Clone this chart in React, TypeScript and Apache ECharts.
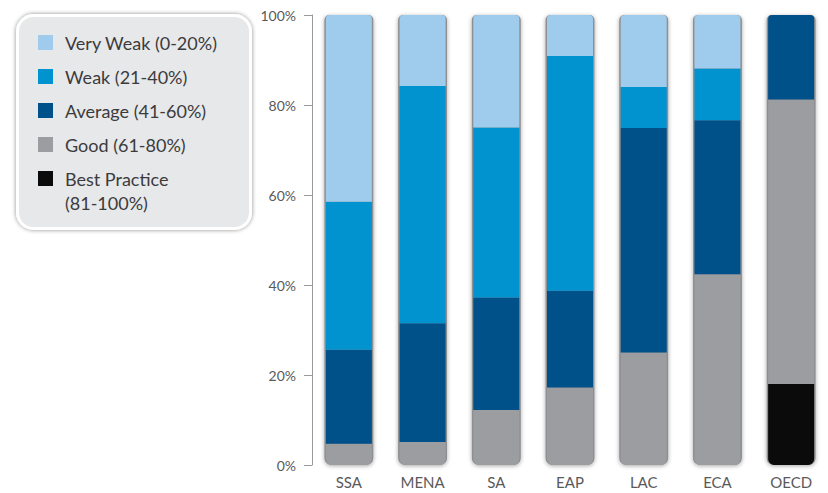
import React, { useEffect, useRef } from "react";
import * as echarts from "echarts";

const categories = ["SSA", "MENA", "SA", "EAP", "LAC", "ECA", "OECD"];
const veryWeak = [41.5, 15.8, 25.0, 9.1, 16.0, 11.9, 0];
const weak = [32.9, 52.7, 37.8, 52.2, 9.1, 11.5, 0];
const average = [20.9, 26.4, 25.0, 21.5, 49.9, 34.2, 18.8];
const good = [4.7, 5.1, 12.2, 17.2, 25.0, 42.4, 63.2];
const bestPractice = [0, 0, 0, 0, 0, 0, 18.0];
const trackTotal = [100, 100, 100, 100, 100, 100, 100];
const yTicks = [0, 20, 40, 60, 80, 100];

const seriesDefs = [
  { name: "Best Practice", values: bestPractice, color: "#0b0b0c" },
  { name: "Good", values: good, color: "#9c9da0" },
  { name: "Average", values: average, color: "#00508a" },
  { name: "Weak", values: weak, color: "#0093d0" },
  { name: "Very Weak", values: veryWeak, color: "#9fcbec" },
];

const legendLabels: Record<string, string> = {
  "Very Weak": "Very Weak (0-20%)",
  Weak: "Weak (21-40%)",
  Average: "Average (41-60%)",
  Good: "Good (61-80%)",
  "Best Practice": "Best Practice",
};

export default function App() {
  const ref = useRef<HTMLDivElement>(null);
  useEffect(() => {
    if (!ref.current) return;
    const chart = echarts.init(ref.current, undefined, { renderer: "svg" });

    const series: any[] = seriesDefs.map((def, si) => ({
      name: def.name,
      type: "bar",
      stack: "total",
      xAxisIndex: 0,
      barWidth: 46,
      z: 3,
      itemStyle: { color: def.color },
      data: def.values.map((v, ci) => {
        let bottomIdx = -1;
        let topIdx = -1;
        seriesDefs.forEach((d, k) => {
          if (d.values[ci] > 0) {
            if (bottomIdx < 0) bottomIdx = k;
            topIdx = k;
          }
        });
        const r = [
          si === topIdx ? 4 : 0,
          si === topIdx ? 4 : 0,
          si === bottomIdx ? 6 : 0,
          si === bottomIdx ? 6 : 0,
        ];
        return { value: v, itemStyle: { borderRadius: r } };
      }),
    }));

    series.unshift({
      name: "track",
      type: "bar",
      xAxisIndex: 1,
      barWidth: 49,
      silent: true,
      z: 1,
      itemStyle: {
        color: "#8e8f92",
        borderRadius: [5, 5, 7, 7],
        shadowBlur: 4,
        shadowColor: "rgba(0,0,0,0.35)",
        shadowOffsetY: 1,
      },
      data: trackTotal,
    });

    chart.setOption({
      animation: false,
      textStyle: { fontFamily: "Lato" },
      grid: { left: 312, top: 15, width: 526.4, bottom: 28 },
      legend: {
        orient: "vertical",
        left: 38,
        top: 32.5,
        padding: 0,
        itemWidth: 15,
        itemHeight: 15,
        itemGap: 14,
        icon: "rect",
        selectedMode: false,
        data: ["Very Weak", "Weak", "Average", "Good", "Best Practice"],
        formatter: (n: string) => legendLabels[n] || n,
        textStyle: {
          fontFamily: "Lato",
          fontSize: 18,
          lineHeight: 20,
          color: "#3b3b3d",
          padding: [0, 0, 0, 7],
        },
      },
      graphic: [
        {
          type: "rect",
          left: 16,
          top: 14,
          z: 0,
          shape: { width: 233, height: 213, r: 16 },
          style: {
            fill: "#e7e8e9",
            stroke: "#ffffff",
            lineWidth: 3,
            shadowBlur: 4,
            shadowColor: "rgba(0,0,0,0.45)",
          },
        },
        {
          type: "text",
          left: 65,
          top: 194,
          z: 5,
          style: {
            text: "(81-100%)",
            fontFamily: "Lato",
            fontSize: 18,
            fill: "#3b3b3d",
          },
        },
      ],
      xAxis: [
        {
          type: "category",
          data: categories,
          axisLine: { show: false },
          axisTick: { show: false },
          axisLabel: { color: "#5a5a5a", fontSize: 15, margin: 9 },
        },
        {
          type: "category",
          data: categories,
          show: false,
        },
      ],
      yAxis: {
        type: "value",
        min: yTicks[0],
        max: yTicks[yTicks.length - 1],
        interval: 20,
        axisLine: { show: true, lineStyle: { color: "#9a9a9a", width: 1 } },
        axisTick: { show: true, length: 8, lineStyle: { color: "#9a9a9a" } },
        splitLine: { show: false },
        axisLabel: { color: "#5a5a5a", fontSize: 14, margin: 16, formatter: "{value}%" },
      },
      series,
    });
    return () => chart.dispose();
  }, []);
  return (
    <div
      ref={ref}
      style={{ position: "absolute", left: 0, top: 0, width: 828, height: 493 }}
    />
  );
}
